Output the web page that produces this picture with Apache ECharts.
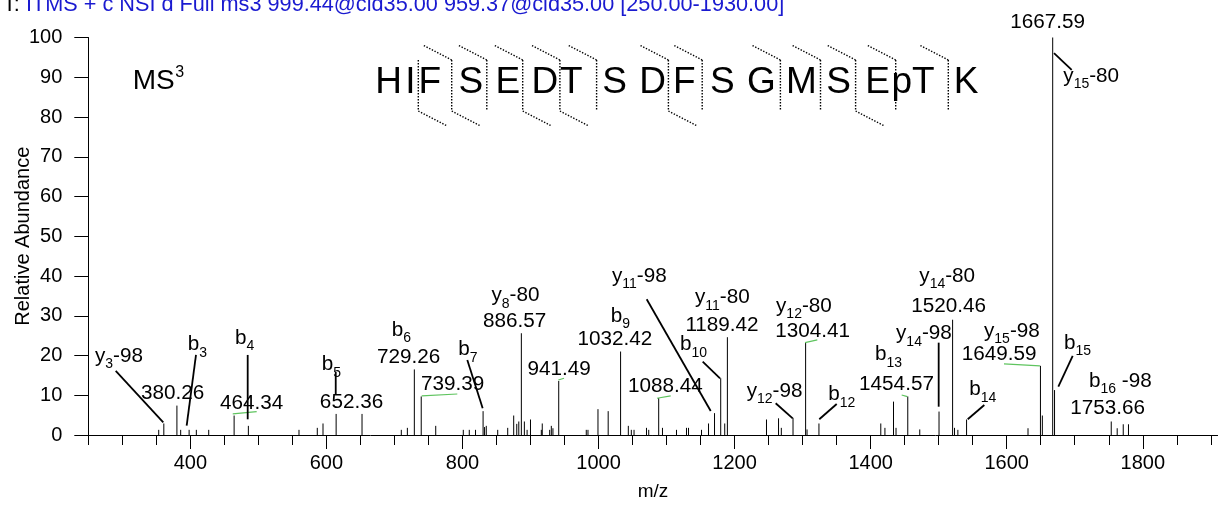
<!DOCTYPE html>
<html><head><meta charset="utf-8">
<script src="https://cdn.jsdelivr.net/npm/echarts@6/dist/echarts.min.js"></script>
<style>html,body{margin:0;padding:0;background:#fff;}#c{width:1218px;height:506px;}</style>
</head><body><div id="c"></div>
<script>
// ---------------- data ----------------
const peakMz = [353.5,361,380.26,385.8,398.2,408.8,427,464.34,485.3,559.7,586.6,595,614.3,652.36,710.1,719,729.26,739.39,760.7,801.2,810,819.2,830.3,832.5,835,851.8,866.5,875.3,879.8,882.8,886.57,891,895,900,915.9,917.3,928.2,930.6,933,941.49,982,984.5,999.2,1014.2,1032.42,1043.8,1048.2,1052.2,1070.5,1073.8,1088.44,1094,1114.6,1129.3,1132.3,1151.4,1161.7,1170.5,1179.6,1185.5,1189.42,1246.9,1264.6,1268.7,1285.9,1304.41,1306.5,1324,1414.9,1421,1433.6,1437.3,1454.57,1472.2,1500.5,1520.46,1523.3,1528.2,1541,1631.3,1649.59,1652.4,1667.59,1670.3,1753.66,1762.4,1771.3,1779];
const peakInt = [1.3,2.9,7.4,1.3,1.3,1.3,1.3,4.9,2.3,1.3,1.8,2.9,5.3,5.3,1.3,1.8,16.5,9.7,2.3,1.3,1.3,1.3,6.0,2.0,2.3,1.3,1.8,4.9,2.8,3.4,25.6,3.4,1.3,3.9,1.3,2.9,1.3,2.3,1.7,13.6,1.3,1.3,6.5,6.0,21.0,2.3,1.3,1.3,1.8,1.3,9.3,1.8,1.3,1.8,1.8,1.3,2.9,5.5,14.3,2.9,24.6,3.9,4.2,1.8,4.3,23.2,1.4,2.9,2.9,1.8,8.4,1.8,9.7,1.4,5.9,29.0,1.8,1.3,3.9,1.7,17.4,4.9,100,11.3,3.4,1.7,2.7,2.7];

const xTickLabels = [400,600,800,1000,1200,1400,1600,1800];

const titlePrefix = 'T:';
const titleText = 'ITMS + c NSI d Full ms3 999.44@cid35.00 959.37@cid35.00 [250.00-1930.00]';
const msLevelText = ['MS','3'];

const valueLabels = ['380.26','464.34','652.36','729.26','739.39','886.57','941.49','1032.42','1088.44','1189.42','1304.41','1454.57','1520.46','1649.59','1667.59','1753.66'];
const ionNames = [['y','3','-98'],['b','3',''],['b','4',''],['b','5',''],['b','6',''],['b','7',''],['y','8','-80'],['b','9',''],['y','11','-98'],['y','11','-80'],['b','10',''],['y','12','-80'],['y','12','-98'],['b','12',''],['b','13',''],['y','14','-98'],['y','14','-80'],['y','15','-98'],['b','14',''],['b','15',''],['b','16',' -98'],['y','15','-80']];

const sequence = ['H','I','F','S','E','D','T','S','D','F','S','G','M','S','E','pT','K'];
const bIonSites = [3,4,5,6,7,9,10,12,13,14,15,16];   // b_n : cleavage after residue n
const yIonSites = [15,14,12,11,8,3];                 // y_n : cleavage after residue 17-n

// ---------------- annotation layout (data units: [m/z, intensity]) ----------------
const valueLabelAt = [[374.1,8.81],[490.2,6.29],[636.9,6.54],[720.7,17.62],[785.4,10.9],[876.8,26.86],[942.2,14.67],[1024.2,22.22],[1098.2,10.5],[1181.5,25.75],[1314.6,24.34],[1438,10.9],[1514.7,30.46],[1589,18.45],[1660,102.1],[1748.2,5.03]];
const ionLabelAt = [[259.8,18.12],[396.1,20.97],[465.6,22.65],[593.1,15.93],[696,24.59],[793.9,19.71],[842.5,33.22],[1017.9,28.11],[1019.8,38.18],[1141.8,32.72],[1119.8,20.97],[1260.9,30.63],[1217.8,9.24],[1337.8,8.38],[1406.4,18.45],[1437.3,23.74],[1471.5,38.18],[1566.6,24.34],[1545,9.64],[1684.2,21.39],[1721,11.75],[1683.2,88.52]];
const leaderAt = [[290.3,16.11,360.2,3.2],[408.3,20.14,394.6,2.34],[484.3,20.14,484.3,3.95],[613.7,15.86,613.7,10.32],[807.1,18.88,829.7,6.72],[1070.8,34.16,1164.9,6.04],[1153.1,18.45,1178.6,14.27],[1260.4,7.98,1285.4,4.2],[1350.1,7.8,1324.5,3.95],[1500,23.23,1500,7.12],[1567.1,7.55,1542.7,3.95],[1697,19.88,1675.9,12.16],[1669.5,96.07,1695.5,91.87]];
const greenAt = [[462.3,5.29,497.5,5.86],[740.1,9.82,792.4,10.32],[940.9,13.84,949.3,14.27],[1085.9,9.24,1106.1,9.82],[1303.5,23.23,1321.6,23.91],[1445.6,10.07,1453.9,9.64],[1596,17.87,1648.9,17.37]];

// sequence layout (pixels)
const seqCenterX = [388.5,410.3,429.7,470.9,507.9,544.9,571.3,614.6,652.6,684.3,722.3,761.4,801.5,838.5,877.6,913,966];
const cutX = {2:418.3,3:451.7,4:486.8,5:522.7,6:559.9,7:596.6,9:668.4,10:702.2,12:780.4,13:820.5,14:855.6,15:895.7,16:948.3};

// ---------------- rendering ----------------
const FF = '"Liberation Sans", Arial, Helvetica, sans-serif';
const mctx = document.createElement('canvas').getContext('2d');
function tw(t, fs){ mctx.font = fs + 'px ' + FF; return mctx.measureText(t).width; }
const MID = 0.3465; // middle-baseline offset (em)
function txt(t, x, base, fs, fill, align){
  return {type:'text', x:x, y:base - MID*fs, silent:true,
    style:{text:t, font: fs + 'px ' + FF, fill: fill || '#000', align: align || 'left', verticalAlign:'middle'}};
}

const chart = echarts.init(document.getElementById('c'), null, {renderer:'canvas'});
const minorTicks = [];
for (let v = 250; v <= 1900; v += 50) minorTicks.push(v);

const LBL = 20.7, SUB = 14;

// sequence graphics
const seqEls = [];
const SEQ_BASE = 95.5, SEQ_FS = 37;
sequence.forEach((r, i) => seqEls.push(txt(r, seqCenterX[i], SEQ_BASE, SEQ_FS, '#000', 'center')));
const VT = 60, VB = 111, HK = 29, HKY = 15;
const dotted = {stroke:'#000', lineWidth:1.4, lineDash:[1.4,1.6]};
Object.keys(cutX).forEach(k => {
  const x = cutX[k]; k = +k;
  seqEls.push({type:'line', silent:true, shape:{x1:x,y1:VT,x2:x,y2:VB}, style:dotted});
  if (bIonSites.indexOf(k) >= 0) seqEls.push({type:'line', silent:true, shape:{x1:x,y1:VT,x2:x-HK,y2:VT-HKY}, style:dotted});
  if (yIonSites.indexOf(17 - k) >= 0) seqEls.push({type:'line', silent:true, shape:{x1:x,y1:VB,x2:x+HK,y2:VB+HKY}, style:dotted});
});

const TFS = 21.7, TBASE = 13;
const MSFS = 28;
const graphicEls = [
  txt(titlePrefix, 3, TBASE, TFS, '#000'),
  txt(titleText, 3 + tw(titlePrefix + ' ', TFS), TBASE, TFS, '#1a1ad0'),
  txt(msLevelText[0], 132.7, 91, MSFS, '#000'),
  txt(msLevelText[1], 132.7 + tw(msLevelText[0], MSFS) + 0.5, 78.5, 16, '#000')
].concat(seqEls);

const option = {
  animation: false,
  grid: {left: 88.3, right: 0.4, top: 37.5, bottom: 71, containLabel: false, outerBoundsMode: 'none'},
  xAxis: [{
    type:'value', min:250, max:1910, interval:50,
    name:'m/z', nameLocation:'middle', nameGap:47, nameMoveOverlap:false,
    nameTextStyle:{fontSize:19, color:'#000', fontFamily:FF},
    axisLine:{show:true, onZero:false, lineStyle:{color:'#000', width:1}},
    axisTick:{show:true, length:10, customValues:minorTicks, lineStyle:{color:'#000', width:1}},
    axisLabel:{show:true, fontSize:20, color:'#000', margin:18, fontFamily:FF, verticalAlign:'top',
      formatter: v => (xTickLabels.indexOf(v) >= 0 ? String(v) : '')},
    splitLine:{show:false}
  },{
    type:'value', min:250, max:1910, position:'bottom',
    axisLine:{show:false},
    axisTick:{show:true, length:14, customValues:xTickLabels, lineStyle:{color:'#000', width:1}},
    axisLabel:{show:false}, splitLine:{show:false}
  }],
  yAxis: {
    type:'value', min:0, max:100, interval:10,
    name:'Relative Abundance', nameLocation:'middle', nameGap:55, nameMoveOverlap:false,
    nameTextStyle:{fontSize:20, color:'#000', fontFamily:FF},
    axisLine:{show:true, lineStyle:{color:'#000', width:1}},
    axisTick:{show:true, length:14, lineStyle:{color:'#000', width:1}},
    axisLabel:{fontSize:20, color:'#000', margin:26, fontFamily:FF},
    splitLine:{show:false}
  },
  graphic: graphicEls,
  series: [
    { // spectrum peaks
      type:'custom', silent:true, clip:false,
      data: peakMz.map((m, i) => [m, peakInt[i]]),
      renderItem: (p, api) => {
        const a = api.coord([api.value(0), 0]);
        const b = api.coord([api.value(0), api.value(1)]);
        return {type:'line', shape:{x1:a[0], y1:a[1], x2:b[0], y2:b[1]}, style:{stroke:'#000', lineWidth:1}};
      }
    },
    { // green connectors
      type:'custom', silent:true, clip:false,
      data: greenAt,
      renderItem: (p, api) => {
        const a = api.coord([api.value(0), api.value(1)]);
        const b = api.coord([api.value(2), api.value(3)]);
        return {type:'line', shape:{x1:a[0], y1:a[1], x2:b[0], y2:b[1]}, style:{stroke:'#5fc45f', lineWidth:1.2}};
      }
    },
    { // leader lines
      type:'custom', silent:true, clip:false,
      data: leaderAt,
      renderItem: (p, api) => {
        const a = api.coord([api.value(0), api.value(1)]);
        const b = api.coord([api.value(2), api.value(3)]);
        return {type:'line', shape:{x1:a[0], y1:a[1], x2:b[0], y2:b[1]}, style:{stroke:'#000', lineWidth:1.8}};
      }
    },
    { // m/z value labels
      type:'custom', silent:true, clip:false,
      data: valueLabelAt.map((q, i) => [q[0], q[1], i]),
      renderItem: (p, api) => {
        const c = api.coord([api.value(0), api.value(1)]);
        return txt(valueLabels[api.value(2)], c[0], c[1], LBL, '#000', 'center');
      }
    },
    { // ion labels with subscripts
      type:'custom', silent:true, clip:false,
      data: ionLabelAt.map((q, i) => [q[0], q[1], i]),
      renderItem: (p, api) => {
        const c = api.coord([api.value(0), api.value(1)]);
        const n = ionNames[api.value(2)];
        const w0 = tw(n[0], LBL), w1 = tw(n[1], SUB);
        return {type:'group', children:[
          txt(n[0], c[0], c[1], LBL),
          txt(n[1], c[0] + w0, c[1] + 6, SUB),
          txt(n[2], c[0] + w0 + w1, c[1], LBL)
        ]};
      }
    }
  ]
};
chart.setOption(option);
</script></body></html>
